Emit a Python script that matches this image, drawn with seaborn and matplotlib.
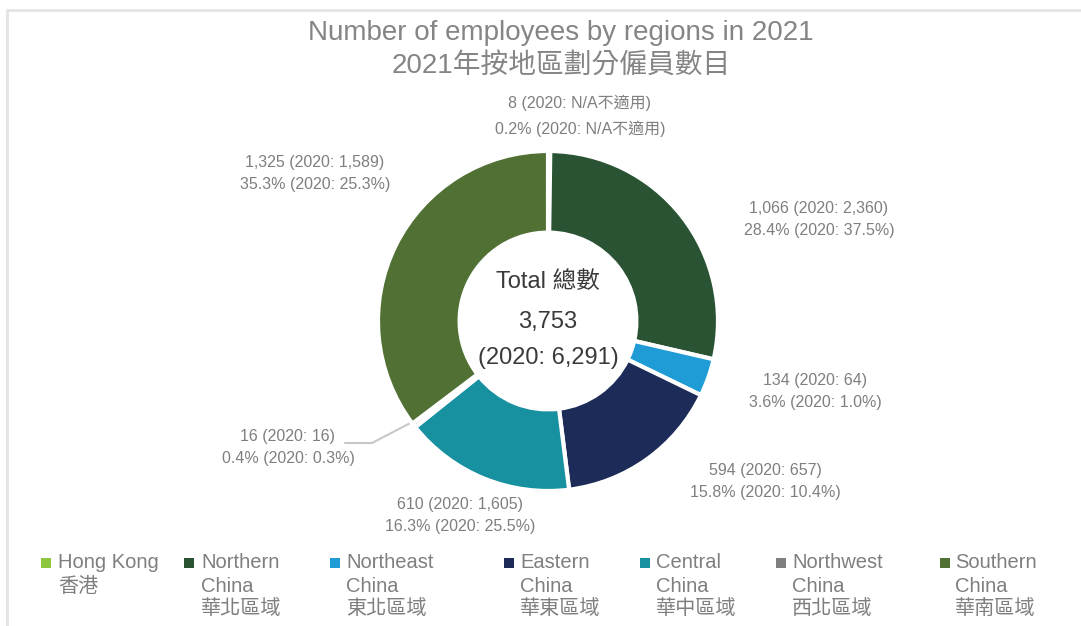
import matplotlib
matplotlib.use("Agg")
import matplotlib.pyplot as plt
import numpy as np
import seaborn as sns

# ---- data ----
regions_en = ["Hong Kong", "Northern\nChina", "Northeast\nChina", "Eastern\nChina",
              "Central\nChina", "Northwest\nChina", "Southern\nChina"]
regions_zh = ["香港", "華北區域", "東北區域", "華東區域", "華中區域", "西北區域", "華南區域"]
employees_2021 = [8, 1066, 134, 594, 610, 16, 1325]
employees_2020 = [None, 2360, 64, 657, 1605, 16, 1589]
share_2021 = [0.2, 28.4, 3.6, 15.8, 16.3, 0.4, 35.3]
share_2020 = [None, 37.5, 1.0, 10.4, 25.5, 0.3, 25.3]
total_2021 = 3753
total_2020 = 6291
na_text = "N/A不適用"

title_en = "Number of employees by regions in 2021"
title_zh = "2021年按地區劃分僱員數目"
center_title = "Total 總數"

# ---- style ----
sns.set_theme(style="white")
plt.rcParams["font.family"] = ["Liberation Sans", "Noto Sans CJK TC", "DejaVu Sans"]

palette = sns.color_palette(["#8DC63F", "#2A5334", "#1F9BD5", "#1C2B57",
                             "#1790A0", "#7F7F7F", "#507133"])
label_grey = "#7f7f7f"

W, H = 1081, 626
fig = plt.figure(figsize=(W / 100, H / 100), dpi=100)
ax = fig.add_axes([0, 0, 1, 1])


def py(y):
    """Convert a top-down pixel row to the axes' bottom-up coordinate."""
    return H - y


cx, cy, radius = 548, py(321), 170
wedges, _ = ax.pie(employees_2021, colors=palette, startangle=90, counterclock=False,
                   radius=radius, center=(cx, cy),
                   wedgeprops=dict(width=radius * 0.48, edgecolor="white", linewidth=3))
ax.set_xlim(0, W)
ax.set_ylim(0, H)
ax.set_aspect("equal", adjustable="box")
ax.axis("off")

# frame lines (top and left)
ax.plot([6, W], [py(10), py(10)], color="#e4e4e4", lw=2, solid_capstyle="butt")
ax.plot([7, 7], [py(10), 0], color="#e4e4e4", lw=2, solid_capstyle="butt")

# titles
ax.text(561, py(33), title_en, ha="center", va="center", fontsize=20, color="#858585")
ax.text(561, py(66), title_zh, ha="center", va="center", fontsize=20, color="#858585")

# centre totals
ax.text(cx, py(282), center_title, ha="center", va="center", fontsize=17, color="#3a3a3a")
ax.text(cx, py(322), f"{total_2021:,}", ha="center", va="center", fontsize=17, color="#3a3a3a")
ax.text(cx, py(358), f"(2020: {total_2020:,})", ha="center", va="center", fontsize=17,
        color="#3a3a3a")

# data labels: (centre x, first line y, second line y)
label_pos = [(580, 103, 129), (819, 209, 231), (815, 380, 402), (765, 471, 493),
             (460, 504, 526), (288, 437, 459), (315, 163, 185)]
for i, (lx, ly1, ly2) in enumerate(label_pos):
    prev_n = na_text if employees_2020[i] is None else f"{employees_2020[i]:,}"
    prev_p = na_text if share_2020[i] is None else f"{share_2020[i]:.1f}%"
    line1 = f"{employees_2021[i]:,} (2020: {prev_n})"
    line2 = f"{share_2021[i]:.1f}% (2020: {prev_p})"
    ax.text(lx, py(ly1), line1, ha="center", va="center", fontsize=11.5, color=label_grey)
    ax.text(lx, py(ly2), line2, ha="center", va="center", fontsize=11.5, color=label_grey)

# leader line for the thin Northwest China slice
w = wedges[5]
mid = np.deg2rad((w.theta1 + w.theta2) / 2)
ex, ey = cx + radius * 0.88 * np.cos(mid), cy + radius * 0.88 * np.sin(mid)
ax.plot([345, 372, ex], [py(443), py(443), ey], color="#c8c8c8", lw=1.5, zorder=0.5)

# legend row
marker_x = [46, 189, 335, 509, 645, 781, 945]
text_x = [58, 201, 346, 520, 656, 792, 955]
rows_y = [563, 586, 608]
for i in range(len(regions_en)):
    ax.scatter([marker_x[i]], [py(563)], marker="s", s=42, color=palette[i], linewidths=0)
    lines = regions_en[i].split("\n") + [regions_zh[i]]
    for j, t in enumerate(lines):
        ax.text(text_x[i], py(rows_y[j]), t, ha="left", va="center", fontsize=14.5,
                color=label_grey)

fig.savefig("out.png", dpi=100, facecolor="white")
